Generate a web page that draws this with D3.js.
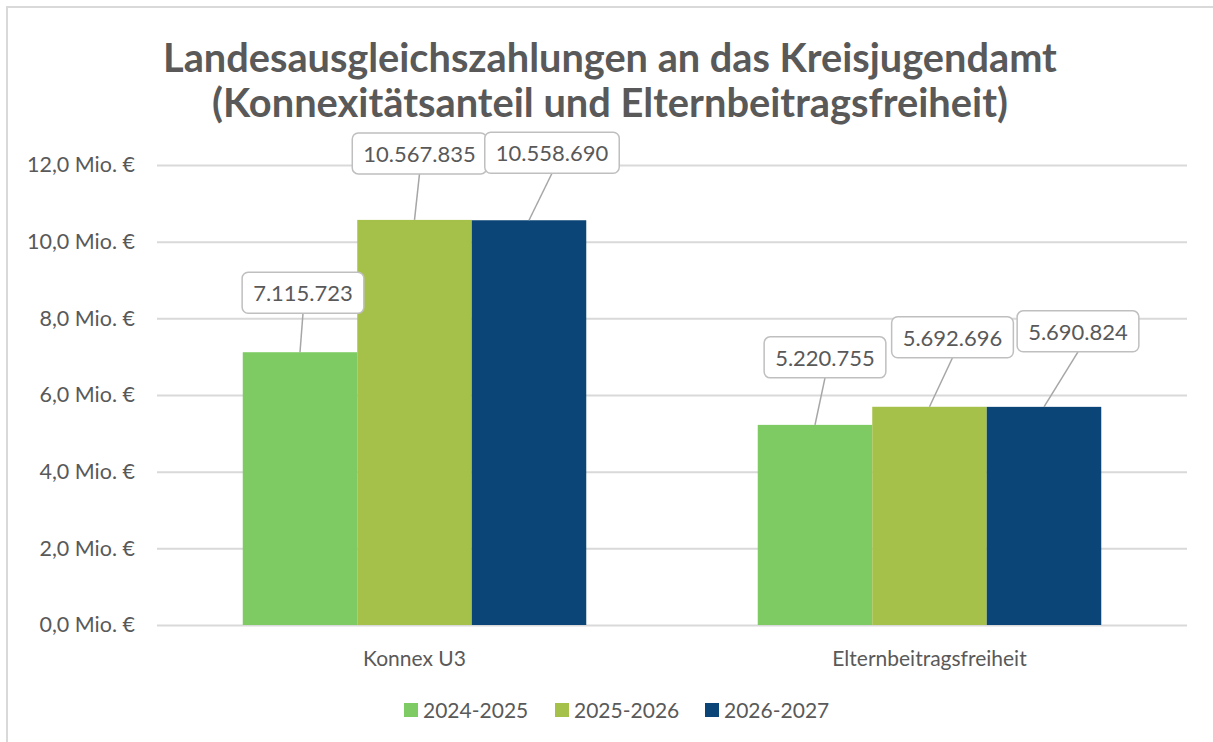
<!DOCTYPE html>
<meta charset="utf-8">
<html>
<head>
  <style>
    body { margin: 0; background: #fff; }
    text { font-family: Lato, "Open Sans", sans-serif; fill: #595959; }
  </style>
</head>
<body>
<script src="https://d3js.org/d3.v7.min.js"></script>
<script>

// data
var categories = ["Konnex U3", "Elternbeitragsfreiheit"];
var seriesNames = ["2024-2025", "2025-2026", "2026-2027"];
var values2024 = [7115723, 5220755];
var values2025 = [10567835, 5692696];
var values2026 = [10558690, 5690824];
var yTicks = [0, 2e6, 4e6, 6e6, 8e6, 10e6, 12e6];
var titleLines = ["Landesausgleichszahlungen an das Kreisjugendamt",
                  "(Konnexitätsanteil und Elternbeitragsfreiheit)"];

var colors = ["#7dcb62", "#a6c14a", "#0b4477"];
// callout offsets (px) from bar top centre: [dx, gap above bar]
var calloutOffsets = [
  [[3, 39], [5, 46], [23, 47]],
  [[10, 47], [23, 49], [34, 55]]
];

var width = 1213, height = 742;
var plot = {left: 157, right: 1187, top: 165, bottom: 625};

var svg = d3.select("body").append("svg")
  .attr("width", width)
  .attr("height", height);

// chart border (only left/top visible in frame)
svg.append("rect")
  .attr("x", 7).attr("y", 7)
  .attr("width", width + 10).attr("height", height + 10)
  .attr("fill", "#fff")
  .attr("stroke", "#d9d9d9")
  .attr("stroke-width", 2);

// title
var title = svg.append("g");
titleLines.forEach(function(t, i) {
  var txt = title.append("text")
    .attr("x", 610)
    .attr("y", 72 + i * 45)
    .attr("text-anchor", "middle")
    .style("font-weight", "bold")
    .style("font-size", "34px")
    .text(t);
  var target = i == 0 ? 894 : 796;
  var w = txt.node().getComputedTextLength();
  txt.style("font-size", (34 * target / w) + "px");
});

var y = d3.scaleLinear()
  .domain([0, 12e6])
  .range([plot.bottom, plot.top]);

var x0 = d3.scaleBand()
  .domain(categories)
  .range([plot.left, plot.right])
  .paddingInner(0.333)
  .paddingOuter(0.1665);

var x1 = d3.scaleBand()
  .domain(seriesNames)
  .range([0, x0.bandwidth()]);

// gridlines
var yAxis = d3.axisLeft(y)
  .tickValues(yTicks)
  .tickSize(-(plot.right - plot.left))
  .tickPadding(22)
  .tickFormat(function(d) { return (d / 1e6).toFixed(1).replace(".", ",") + " Mio. €"; });

var gy = svg.append("g")
  .attr("transform", "translate(" + plot.left + ",0)")
  .call(yAxis);
gy.select(".domain").remove();
gy.selectAll(".tick line").attr("stroke", "#d9d9d9").attr("stroke-width", 2);
gy.selectAll(".tick text").style("font-size", "21.5px").attr("fill", "#595959");

// bars
var series = seriesNames.map(function(s, i) {
  var vals = [values2024, values2025, values2026][i];
  return {name: s, color: colors[i], idx: i, values: vals};
});

var rows = [];
categories.forEach(function(c, ci) {
  series.forEach(function(s) {
    rows.push({cat: c, ci: ci, series: s.name, si: s.idx, value: s.values[ci], color: s.color});
  });
});

svg.append("g").selectAll("rect")
  .data(rows)
  .enter().append("rect")
  .attr("x", function(d) { return x0(d.cat) + x1(d.series); })
  .attr("y", function(d) { return y(d.value); })
  .attr("width", x1.bandwidth())
  .attr("height", function(d) { return y(0) - y(d.value); })
  .attr("fill", function(d) { return d.color; });

// category labels
svg.append("g").selectAll("text")
  .data(categories)
  .enter().append("text")
  .attr("x", function(d) { return x0(d) + x0.bandwidth() / 2; })
  .attr("y", 666)
  .attr("text-anchor", "middle")
  .style("font-size", "21px")
  .text(function(d) { return d; });

// data label callouts
var fmt = d3.formatLocale({decimal: ",", thousands: ".", grouping: [3], currency: ["", " €"]}).format(",d");

var callouts = svg.append("g").selectAll("g")
  .data(rows)
  .enter().append("g");

callouts.each(function(d) {
  var g = d3.select(this);
  var off = calloutOffsets[d.ci][d.si];
  var bx = x0(d.cat) + x1(d.series) + x1.bandwidth() / 2;
  var by = y(d.value);
  var cx = bx + off[0];
  var bottom = by - off[1];
  g.append("line")
    .attr("x1", cx).attr("y1", bottom)
    .attr("x2", bx).attr("y2", by)
    .attr("stroke", "#a6a6a6").attr("stroke-width", 1.5);
  var txt = g.append("text")
    .attr("x", cx)
    .attr("y", bottom - 12)
    .attr("text-anchor", "middle")
    .style("font-size", "22px")
    .text(fmt(d.value));
  var w = txt.node().getComputedTextLength() + 22;
  g.insert("rect", "text")
    .attr("x", cx - w / 2)
    .attr("y", bottom - 41)
    .attr("width", w)
    .attr("height", 41)
    .attr("rx", 6)
    .attr("fill", "#fff")
    .attr("stroke", "#bfbfbf")
    .attr("stroke-width", 1.5);
});

// legend
var legendX = [404, 555, 705];
var legend = svg.append("g").selectAll("g")
  .data(series)
  .enter().append("g")
  .attr("transform", function(d, i) { return "translate(" + legendX[i] + ",703)"; });

legend.append("rect")
  .attr("width", 14).attr("height", 14)
  .attr("fill", function(d) { return d.color; });

legend.append("text")
  .attr("x", 19)
  .attr("y", 15)
  .style("font-size", "21px")
  .text(function(d) { return d.name; });

</script>
</body>
</html>
